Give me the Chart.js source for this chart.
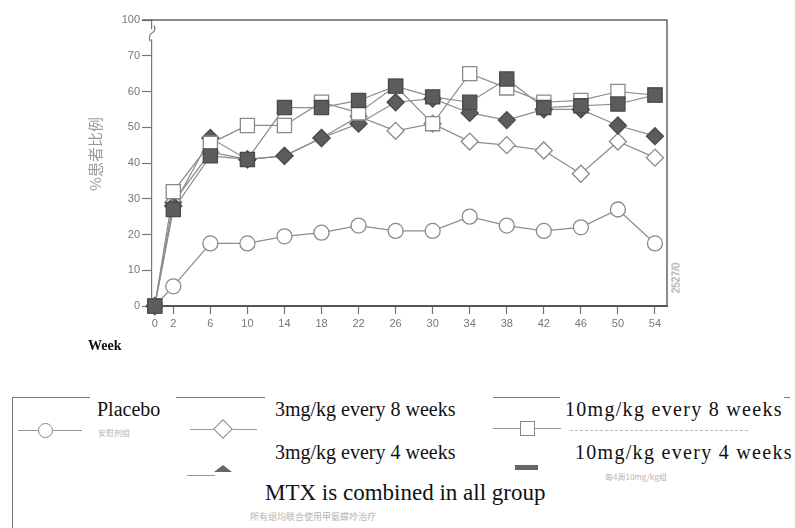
<!DOCTYPE html>
<html>
<head>
<meta charset="utf-8">
<script src="https://cdn.jsdelivr.net/npm/chart.js@4.4.1/dist/chart.umd.min.js"></script>
<style>
    body { margin: 0; background: #fff; width: 795px; height: 528px; overflow: hidden; position: relative; }
    #wrap { position: absolute; left: 0; top: 0; width: 795px; height: 380px; }
    .txt { position: absolute; white-space: nowrap; font-family: "Liberation Serif", serif; color: #111; }
    .lg { font-size: 20px; }
    .wide { letter-spacing: 1.3px; }
    .cn { position: absolute; white-space: nowrap; font-family: "Noto Sans CJK SC", sans-serif; color: #b5b5b5; font-size: 8px; }
    .hl { position: absolute; height: 0; border-top: 1.5px solid #777; }
    .mk { position: absolute; box-sizing: border-box; background: #fff; border: 1.5px solid #888; }
</style>
</head>
<body>
<div id="wrap"><canvas id="chart"></canvas></div>

<!-- outside labels -->
<div class="cn" style="left:94px;top:154px;transform:translate(-50%,-50%) rotate(-90deg);font-size:15px;color:#999;">%患者比例</div>
<div class="cn" style="left:676px;top:278px;transform:translate(-50%,-50%) rotate(-90deg);font-size:10px;color:#888;font-family:'Liberation Sans',sans-serif;">2527/0</div>
<div class="txt" style="left:88px;top:338px;font-size:14px;font-weight:bold;">Week</div>

<!-- legend box -->
<div style="position:absolute;left:12px;top:397px;width:0;height:131px;border-left:1.5px solid #777;"></div>
<div class="hl" style="left:12px;top:397px;width:78px;"></div>
<div class="hl" style="left:176px;top:397px;width:89px;"></div>
<div class="hl" style="left:493px;top:397px;width:67px;"></div>
<div class="hl" style="left:784px;top:397px;width:6px;"></div>

<!-- legend icons -->
<div class="hl" style="left:18px;top:430px;width:64px;border-color:#999;"></div>
<div class="mk" style="left:38px;top:423px;width:15px;height:15px;border-radius:50%;"></div>
<div class="hl" style="left:190px;top:429px;width:67px;border-color:#999;"></div>
<div class="mk" style="left:216px;top:422px;width:14px;height:14px;transform:rotate(45deg);"></div>
<div class="hl" style="left:187px;top:475px;width:28px;border-color:#999;"></div>
<div style="position:absolute;left:214px;top:465px;width:0;height:0;border-left:9px solid transparent;border-right:9px solid transparent;border-bottom:7px solid #666;"></div>
<div class="hl" style="left:493px;top:428px;width:68px;border-color:#999;"></div>
<div class="mk" style="left:520px;top:421px;width:15px;height:15px;"></div>
<div style="position:absolute;left:515px;top:465px;width:23px;height:5px;background:#666;"></div>
<div style="position:absolute;left:570px;top:430px;width:178px;height:0;border-top:1px dashed #bbb;"></div>

<!-- legend texts -->
<div class="txt lg" style="left:97px;top:398px;">Placebo</div>
<div class="cn" style="left:98px;top:427px;">安慰剂组</div>
<div class="txt lg" style="left:275px;top:398px;">3mg/kg every 8 weeks</div>
<div class="txt lg wide" style="left:565px;top:398px;">10mg/kg every 8 weeks</div>
<div class="txt lg" style="left:275px;top:441px;">3mg/kg every 4 weeks</div>
<div class="txt lg wide" style="left:575px;top:441px;">10mg/kg every 4 weeks</div>
<div class="cn" style="left:605px;top:471px;">每4周10mg/kg组</div>
<div class="txt" style="left:265px;top:480px;font-size:23px;">MTX is combined in all group</div>
<div class="cn" style="left:250px;top:510px;font-size:9px;">所有组均联合使用甲氨蝶呤治疗</div>

<script>
// weeks on the x axis
const weeks = [0, 2, 6, 10, 14, 18, 22, 26, 30, 34, 38, 42, 46, 50, 54];

// % of patients
const placebo = [0, 5.5, 17.5, 17.5, 19.5, 20.5, 22.5, 21, 21, 25, 22.5, 21, 22, 27, 17.5];
const mg3Every8 = [0, 29, 43, 41, 42, 47, 53, 49, 51, 46, 45, 43.5, 37, 46, 41.5];
const mg3Every4 = [0, 28, 47, 41, 42, 47, 51, 57, 58, 54, 52, 55, 55, 50.5, 47.5];
const mg10Every8 = [0, 32, 45.5, 50.5, 50.5, 57, 54, 61.5, 51, 65, 61, 57, 57.5, 60, 59];
const mg10Every4 = [0, 27, 42, 41, 55.5, 55.5, 57.5, 61.5, 58.5, 57, 63.5, 55.5, 56, 56.5, 59];

// y ticks 0..70, the top one is shown as 100 (broken axis)
const yTicks = [0, 10, 20, 30, 40, 50, 60, 70, 80];
const yTickLabels = ['0', '10', '20', '30', '40', '50', '60', '70', '100'];

function points(values) {
    return weeks.map((w, i) => ({ x: w, y: values[i] }));
}

function series(label, values, style, filled, radius) {
    return {
        label: label,
        data: points(values),
        borderColor: '#8c8c8c',
        borderWidth: 1.2,
        pointStyle: style,
        pointRadius: radius,
        pointBackgroundColor: filled ? '#5c5c5c' : '#ffffff',
        pointBorderColor: filled ? '#4a4a4a' : '#8a8a8a',
        pointBorderWidth: 1.3,
        tension: 0,
        clip: false
    };
}

// frame on top and right, plus the little break mark on the y axis
const framePlugin = {
    id: 'frame',
    beforeDatasetsDraw(chart) {
        const a = chart.chartArea;
        const ctx = chart.ctx;
        ctx.save();
        ctx.strokeStyle = '#666';
        ctx.lineWidth = 1.5;
        ctx.beginPath();
        ctx.moveTo(a.left - 10, a.top);
        ctx.lineTo(a.right, a.top);
        ctx.lineTo(a.right, a.bottom);
        ctx.stroke();

        // axis break
        const yb = chart.scales.y.getPixelForValue(76);
        ctx.fillStyle = '#fff';
        ctx.fillRect(a.left - 3, yb - 5, 6, 10);
        ctx.strokeStyle = '#777';
        ctx.lineWidth = 1.2;
        ctx.beginPath();
        ctx.moveTo(a.left - 2, yb + 7);
        ctx.quadraticCurveTo(a.left - 4, yb, a.left + 1, yb - 2);
        ctx.quadraticCurveTo(a.left + 4, yb - 4, a.left + 2, yb - 9);
        ctx.stroke();
        ctx.restore();
    }
};

const ctx = document.getElementById('chart').getContext('2d');
new Chart(ctx, {
    type: 'line',
    data: {
        datasets: [
            series('10mg/kg every 4 weeks', mg10Every4, 'rect', true, 10),
            series('10mg/kg every 8 weeks', mg10Every8, 'rect', false, 10),
            series('3mg/kg every 4 weeks', mg3Every4, 'rectRot', true, 8.5),
            series('3mg/kg every 8 weeks', mg3Every8, 'rectRot', false, 8.5),
            series('Placebo', placebo, 'circle', false, 7.5)
        ]
    },
    options: {
        responsive: true,
        maintainAspectRatio: false,
        animation: false,
        layout: { padding: { left: 0, top: 20, right: 128, bottom: 0 } },
        plugins: {
            legend: { display: false },
            tooltip: { enabled: false }
        },
        scales: {
            x: {
                type: 'linear',
                min: -0.3,
                max: 55.3,
                afterBuildTicks: scale => { scale.ticks = weeks.map(v => ({ value: v })); },
                afterFit: scale => { scale.height = 74; },
                grid: { drawOnChartArea: false, tickLength: 8, color: '#777', tickWidth: 1.2 },
                border: { color: '#555', width: 2 },
                ticks: {
                    color: '#777',
                    padding: 3,
                    maxRotation: 0,
                    font: { family: 'Liberation Sans', size: 11 },
                    callback: v => String(v)
                }
            },
            y: {
                min: 0,
                max: 80,
                afterBuildTicks: scale => { scale.ticks = yTicks.map(v => ({ value: v })); },
                afterFit: scale => { scale.width = 152; },
                grid: { drawOnChartArea: false, tickLength: 10, color: '#777', tickWidth: 1.2 },
                border: { color: '#777', width: 1.2 },
                ticks: {
                    color: '#777',
                    padding: 2,
                    font: { family: 'Liberation Sans', size: 11 },
                    callback: v => yTickLabels[yTicks.indexOf(v)]
                }
            }
        }
    },
    plugins: [framePlugin]
});
</script>
</body>
</html>
